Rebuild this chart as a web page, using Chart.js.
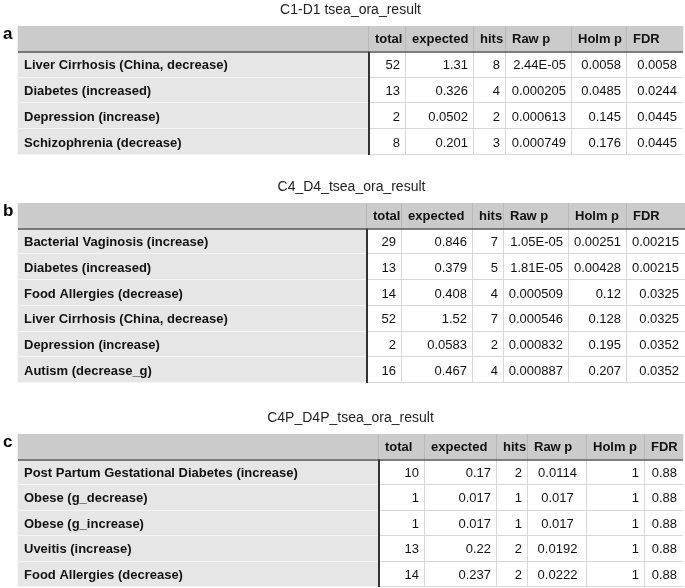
<!DOCTYPE html>
<html>
<head>
<meta charset="utf-8">
<script src="https://cdn.jsdelivr.net/npm/chart.js@4.4.0/dist/chart.umd.min.js"></script>
<style>
  body { margin: 0; background: #fff; }
  .panel { position: absolute; left: 0; width: 685px; }
</style>
</head>
<body>
<div class="panel" style="top:0;height:160px"><canvas id="tableA"></canvas></div>
<div class="panel" style="top:160px;height:230px"><canvas id="tableB"></canvas></div>
<div class="panel" style="top:390px;height:198px"><canvas id="tableC"></canvas></div>
<script>
// column headers (same for all three tables)
const columns = ['', 'total', 'expected', 'hits', 'Raw p', 'Holm p', 'FDR'];

// a: C1-D1
const termsA = ['Liver Cirrhosis (China, decrease)', 'Diabetes (increased)', 'Depression (increase)', 'Schizophrenia (decrease)'];
const totalA = [52, 13, 2, 8];
const expectedA = [1.31, 0.326, 0.0502, 0.201];
const hitsA = [8, 4, 2, 3];
const rawPA = [2.44e-5, 0.000205, 0.000613, 0.000749];
const holmPA = [0.0058, 0.0485, 0.145, 0.176];
const fdrA = [0.0058, 0.0244, 0.0445, 0.0445];

// b: C4_D4
const termsB = ['Bacterial Vaginosis (increase)', 'Diabetes (increased)', 'Food Allergies (decrease)', 'Liver Cirrhosis (China, decrease)', 'Depression (increase)', 'Autism (decrease_g)'];
const totalB = [29, 13, 14, 52, 2, 16];
const expectedB = [0.846, 0.379, 0.408, 1.52, 0.0583, 0.467];
const hitsB = [7, 5, 4, 7, 2, 4];
const rawPB = [1.05e-5, 1.81e-5, 0.000509, 0.000546, 0.000832, 0.000887];
const holmPB = [0.00251, 0.00428, 0.12, 0.128, 0.195, 0.207];
const fdrB = [0.00215, 0.00215, 0.0325, 0.0325, 0.0352, 0.0352];

// c: C4P_D4P
const termsC = ['Post Partum Gestational Diabetes (increase)', 'Obese (g_decrease)', 'Obese (g_increase)', 'Uveitis (increase)', 'Food Allergies (decrease)'];
const totalC = [10, 1, 1, 13, 14];
const expectedC = [0.17, 0.017, 0.017, 0.22, 0.237];
const hitsC = [2, 1, 1, 2, 2];
const rawPC = [0.0114, 0.017, 0.017, 0.0192, 0.0222];
const holmPC = [1, 1, 1, 1, 1];
const fdrC = [0.88, 0.88, 0.88, 0.88, 0.88];

const FONT = '"Liberation Sans", Arial, Helvetica, sans-serif';

function fmt(v) {
    if (v !== 0 && Math.abs(v) < 1e-4) {
        const [m, e] = v.toExponential(2).split('e');
        const n = Math.abs(parseInt(e, 10));
        return m + 'E' + (e[0] === '-' ? '-' : '+') + (n < 10 ? '0' + n : n);
    }
    return String(v);
}

function buildRows(terms, total, expected, hits, rawP, holmP, fdr) {
    const rows = [columns];
    terms.forEach((t, i) => {
        rows.push([t, fmt(total[i]), fmt(expected[i]), fmt(hits[i]), fmt(rawP[i]), fmt(holmP[i]), fmt(fdr[i])]);
    });
    return rows;
}

// grid lines, cell text, title and panel letter
const tableDeco = {
    id: 'tableDeco',
    afterDatasetsDraw(chart, args, opts) {
        const ctx = chart.ctx;
        const xs = chart.scales.x;
        const cells = chart.getDatasetMeta(0).data;
        const px = opts.edges.map(e => xs.getPixelForValue(e));
        const left = px[0], right = px[px.length - 1];
        const rowTop = i => cells[i].y - cells[i].height / 2;
        const rowBot = i => cells[i].y + cells[i].height / 2;
        const hTop = rowTop(0), hBot = rowBot(0), tBot = rowBot(cells.length - 1);

        function line(x1, y1, x2, y2, color, w) {
            ctx.beginPath();
            ctx.strokeStyle = color;
            ctx.lineWidth = w;
            ctx.moveTo(x1, y1);
            ctx.lineTo(x2, y2);
            ctx.stroke();
        }

        ctx.save();
        // row separators
        for (let i = 1; i < cells.length; i++) {
            const y = Math.round(rowBot(i)) - 0.5;
            line(left, y, px[1], y, '#f4f4f4', 1);
            line(px[1], y, right, y, '#d8d8d8', 1);
        }
        // column separators
        for (let c = 2; c < px.length - 1; c++) {
            const x = Math.round(px[c]) - 0.5;
            line(x, hTop, x, hBot, '#b9b9b9', 1);
            line(x, hBot, x, tBot, '#d8d8d8', 1);
        }
        line(Math.round(px[1]) - 0.5, hTop, Math.round(px[1]) - 0.5, hBot, '#b9b9b9', 1);
        // dark header rule and first-column rule
        line(left, Math.round(hBot), right, Math.round(hBot), '#555', 1.6);
        line(Math.round(px[1]), hBot, Math.round(px[1]), tBot, '#333', 2);

        // cell text
        ctx.textBaseline = 'middle';
        ctx.fillStyle = '#111';
        chart.data.datasets.forEach((ds, c) => {
            chart.getDatasetMeta(c).data.forEach((el, i) => {
                const txt = opts.rows[i][c];
                if (!txt) return;
                const x0 = Math.min(el.x, el.base), x1 = Math.max(el.x, el.base);
                const y = el.y + 1;
                if (i === 0 || c === 0) {
                    ctx.font = 'bold 13px ' + FONT;
                    ctx.textAlign = 'left';
                    ctx.fillText(txt, x0 + 6, y);
                } else if (opts.centered.includes(c)) {
                    ctx.font = '13px ' + FONT;
                    ctx.textAlign = 'center';
                    ctx.fillText(txt, (x0 + x1) / 2, y);
                } else {
                    ctx.font = '13px ' + FONT;
                    ctx.textAlign = 'right';
                    ctx.fillText(txt, x1 - 6, y);
                }
            });
        });

        // title above the table
        ctx.font = '14px ' + FONT;
        ctx.fillStyle = '#222';
        ctx.textAlign = 'center';
        ctx.fillText(opts.title, (left + right) / 2, hTop - 16);
        // panel letter
        ctx.font = 'bold 17px ' + FONT;
        ctx.fillStyle = '#000';
        ctx.textAlign = 'left';
        ctx.fillText(opts.letter, 3, hTop + 8);
        ctx.restore();
    }
};

function makeTable(id, rows, edges, padTop, padBottom, title, letter, centered) {
    const datasets = columns.map((col, c) => ({
        label: col,
        data: rows.map(() => [edges[c], edges[c + 1]]),
        backgroundColor: ctx => ctx.dataIndex === 0 ? '#cbcbcb' : (c === 0 ? '#e6e6e6' : '#ffffff'),
        borderWidth: 0,
        grouped: false,
        barPercentage: 1,
        categoryPercentage: 1
    }));
    return new Chart(document.getElementById(id), {
        type: 'bar',
        data: { labels: rows.map((r, i) => i === 0 ? 'header' : r[0]), datasets: datasets },
        options: {
            indexAxis: 'y',
            responsive: true,
            maintainAspectRatio: false,
            animation: false,
            layout: { padding: { top: padTop, bottom: padBottom, left: 0, right: 0 } },
            scales: {
                x: { type: 'linear', display: false, min: 0, max: 685, grid: { display: false } },
                y: { display: false, offset: true, grid: { display: false } }
            },
            plugins: {
                legend: { display: false },
                tooltip: { enabled: false },
                tableDeco: { rows: rows, edges: edges, title: title, letter: letter, centered: centered || [] }
            }
        },
        plugins: [tableDeco]
    });
}

// column edges (page x) per table
const edgesA = [18, 369, 406, 474, 506, 572, 627, 683];
const edgesB = [18, 367, 402, 473, 504, 569, 627, 685];
const edgesC = [18, 379, 425, 497, 528, 587, 645, 683];

makeTable('tableA', buildRows(termsA, totalA, expectedA, hitsA, rawPA, holmPA, fdrA), edgesA, 26, 5, 'C1-D1 tsea_ora_result', 'a');
makeTable('tableB', buildRows(termsB, totalB, expectedB, hitsB, rawPB, holmPB, fdrB), edgesB, 43, 7, 'C4_D4_tsea_ora_result', 'b');
makeTable('tableC', buildRows(termsC, totalC, expectedC, hitsC, rawPC, holmPC, fdrC), edgesC, 44, 1, 'C4P_D4P_tsea_ora_result', 'c', [4]);
</script>
</body>
</html>
